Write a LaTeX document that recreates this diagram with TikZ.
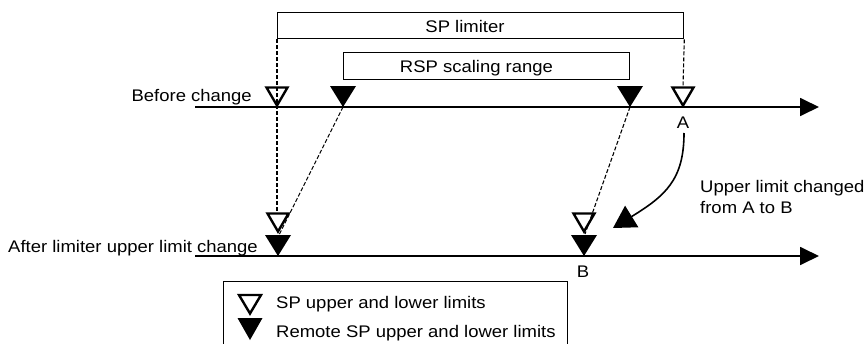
\documentclass[tikz,border=0pt]{standalone}
\usepackage{fontspec}
\setmainfont{Liberation Sans}[FakeStretch=1.1]
\usetikzlibrary{arrows.meta}
\newcommand\hollowtri[1]{\draw[htri] (#1) ++(-10.5,-18) -- (#1) -- ++(10.5,-18) -- cycle;}
\newcommand\filledtri[1]{\fill[ftri] (#1) ++(-13,-21) -- (#1) -- ++(13,-21) -- cycle;}
\begin{document}
\begin{tikzpicture}[x=1pt,y=-1pt,
  lbl/.style={inner sep=0pt, font=\fontsize{16.8}{20}\selectfont, text=black},
  axis/.style={line width=1.8pt, -{Triangle[length=19pt,width=18pt]}},
  rangebox/.style={draw, line width=1.3pt, inner sep=0pt},
  guide/.style={line width=1.1pt, dash pattern=on 4pt off 2pt},
  htri/.style={line width=2.4pt, line join=miter},
  ftri/.style={black},
  curved/.style={line width=1.6pt, -{Triangle[length=22pt,width=25pt]}},
]
\useasboundingbox (0,0) rectangle (868,343);

% range boxes
\node[rangebox, minimum width=406pt, minimum height=26pt, anchor=north west] (sp) at (277,12) {};
\node[lbl, anchor=base] (sptext) at (465,32) {SP limiter};
\node[rangebox, minimum width=286pt, minimum height=27pt, anchor=north west] (rsp) at (343,52) {};
\node[lbl, anchor=base] (rsptext) at (476.5,72.5) {RSP scaling range};

% axes
\coordinate (b0) at (195,107); \coordinate (b1) at (819,107);
\coordinate (a0) at (195,256); \coordinate (a1) at (819,256);
\draw[axis] (b0) -- (b1);
\draw[axis] (a0) -- (a1);
\node[lbl, anchor=base east] (before) at (252,101.5) {Before change};
\node[lbl, anchor=base east] (after) at (258,252) {After limiter upper limit change};

% marker positions
\coordinate (bHL) at (277,105.5);
\coordinate (bFL) at (343,107);
\coordinate (bFR) at (630,107);
\coordinate (bHA) at (683,105.5);
\coordinate (bHAtop) at (683,87);
\coordinate (aF1) at (278,256);
\coordinate (aF1top) at (279,235);
\coordinate (aH1) at (278,231.5);
\coordinate (aH1top) at (277,213);
\coordinate (aF2) at (584,256);
\coordinate (aF2top) at (585,234);
\coordinate (aH2) at (584,231.5);

% guide lines
\draw[guide] (sp.south west) -- (aH1top);
\draw[guide] (sp.south east) -- (bHAtop);
\draw[guide] (bFL) -- (aF1top);
\draw[guide] (bFR) -- (aF2top);

% markers
\hollowtri{bHL}
\filledtri{bFL}
\filledtri{bFR}
\hollowtri{bHA}
\filledtri{aF1}
\hollowtri{aH1}
\filledtri{aF2}
\hollowtri{aH2}

% point labels
\node[lbl, anchor=base] (Alab) at (683,128) {A};
\node[lbl, anchor=base] (Blab) at (583,277) {B};

% change arrow
\coordinate (cs) at (684,133);
\coordinate (ct) at (613,228);
\draw[curved] (cs) .. controls (684,180) and (665,196) .. (ct);
\node[lbl, anchor=base west] (note) at (700,192) {Upper limit changed};
\node[lbl, anchor=base west] (note2) at (700,213.5) {from A to B};

% legend
\node[rangebox, minimum width=344pt, minimum height=72pt, anchor=north west] (legend) at (223,281) {};
\coordinate (lH) at (250,313.5);
\coordinate (lF) at (250,340);
\draw[htri] (lH) ++(-11,-18.5) -- (lH) -- ++(11,-18.5) -- cycle;
\fill[ftri] (lF) ++(-12.5,-22) -- (lF) -- ++(12.5,-22) -- cycle;
\node[lbl, anchor=base west] (leg1) at (276,308) {SP upper and lower limits};
\node[lbl, anchor=base west] (leg2) at (276,337) {Remote SP upper and lower limits};
\end{tikzpicture}
\end{document}
